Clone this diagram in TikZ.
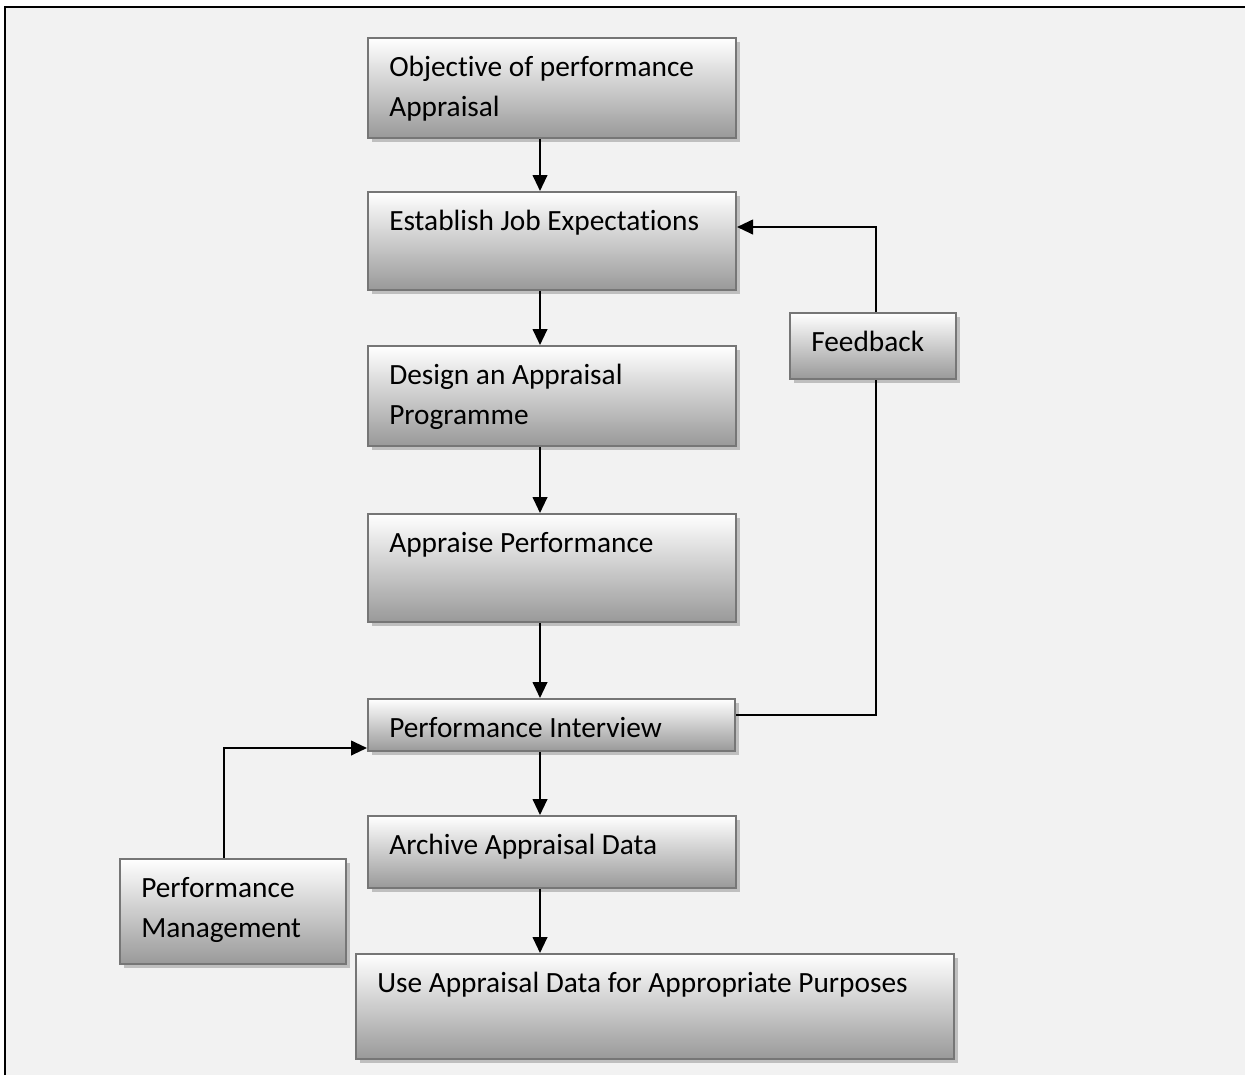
\documentclass[tikz,border=0pt]{standalone}
\usepackage{fontspec}
\setmainfont{Carlito}[Ligatures=CommonOff]
\usetikzlibrary{shadows,arrows.meta}
\definecolor{bgc}{HTML}{F2F2F2}
\definecolor{bord}{HTML}{767676}
\definecolor{shd}{HTML}{BFBFBF}
\definecolor{botc}{HTML}{999999}
\tikzset{
  stepbox/.style={rectangle, draw=bord, line width=1.5pt, top color=white, bottom color=botc,
    inner sep=0pt, anchor=north west,
    drop shadow={shadow xshift=3pt, shadow yshift=-3pt, fill=shd, opacity=1}},
  lbl/.style={anchor=base west, inner sep=0pt, align=left, font=\fontsize{22}{30}\selectfont},
  conn/.style={line width=1.5pt, -{Triangle[length=12pt,width=11pt]}},
  plain/.style={line width=1.5pt},
}
\begin{document}
\begin{tikzpicture}[x=0.75pt,y=-0.75pt]
\useasboundingbox (0,0) rectangle (1245,1075);
\fill[bgc] (5,7) rectangle (1245,1075);
\draw[line width=1.5pt] (5,1075) -- (5,7) -- (1245,7);

\node[stepbox, minimum width=276pt, minimum height=75pt] (obj) at (367,37) {};
\node[stepbox, minimum width=276pt, minimum height=73.5pt] (est) at (367,191) {};
\node[stepbox, minimum width=276pt, minimum height=75pt] (des) at (367,345) {};
\node[stepbox, minimum width=276pt, minimum height=81pt] (apr) at (367,513) {};
\node[stepbox, minimum width=275.25pt, minimum height=39pt] (piv) at (367,698) {};
\node[stepbox, minimum width=276pt, minimum height=54pt] (arc) at (367,815) {};
\node[stepbox, minimum width=448.5pt, minimum height=78.75pt] (use) at (355,953) {};
\node[stepbox, minimum width=124.5pt, minimum height=49.5pt] (fb) at (789,312) {};
\node[stepbox, minimum width=169.5pt, minimum height=78.75pt] (pm) at (119,858) {};

\node[lbl] (tobj) at (389,116) {Objective of performance\\Appraisal};
\node[lbl] (test) at (389,230) {Establish Job Expectations};
\node[lbl] (tdes) at (389,424) {Design an Appraisal\\Programme};
\node[lbl] (tapr) at (389,552) {Appraise Performance};
\node[lbl] (tpiv) at (389,737) {Performance Interview};
\node[lbl] (tarc) at (389,854) {Archive Appraisal Data};
\node[lbl] (tuse) at (377,992) {Use Appraisal Data for Appropriate Purposes};
\node[lbl] (tfb) at (811,351) {Feedback};
\node[lbl] (tpm) at (141,937) {Performance\\Management};

\coordinate (ax) at (540,0);
\draw[conn] (ax |- obj.south) -- (ax |- est.north);
\draw[conn] (ax |- est.south) -- (ax |- des.north);
\draw[conn] (ax |- des.south) -- (ax |- apr.north);
\draw[conn] (ax |- apr.south) -- (ax |- piv.north);
\draw[conn] (ax |- piv.south) -- (ax |- arc.north);
\draw[conn] (ax |- arc.south) -- (ax |- use.north);

\coordinate (fbl) at (876,715);
\coordinate (fbt) at (876,227);
\draw[plain] (piv.east |- fbl) -- (fbl) -- (fbl |- fb.south);
\draw[conn] (fbl |- fb.north) -- (fbt) -- (est.east |- fbt);

\coordinate (pmt) at (224,748);
\draw[conn] (pmt |- pm.north) -- (pmt) -- (piv.west |- pmt);
\end{tikzpicture}
\end{document}
